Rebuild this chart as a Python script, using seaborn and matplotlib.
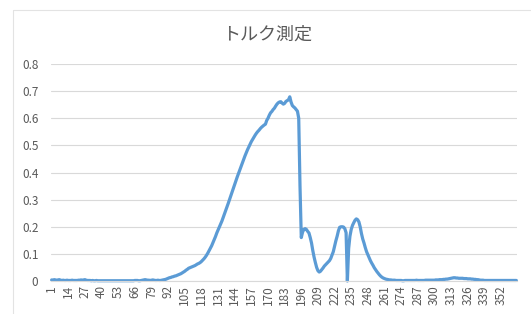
import numpy as np
import pandas as pd
import matplotlib
matplotlib.use("Agg")
import matplotlib.pyplot as plt
from matplotlib.lines import Line2D
import seaborn as sns

# torque readings, one value per sample (1..364)
torque_001_090 = [
    0.004, 0.003, 0.005, 0.004, 0.003, 0.004, 0.005, 0.003, 0.002, 0.003,
    0.002, 0.002, 0.003, 0.002, 0.002, 0.002, 0.003, 0.002, 0.002, 0.002,
    0.002, 0.003, 0.003, 0.004, 0.003, 0.004, 0.005, 0.003, 0.002, 0.002,
    0.002, 0.001, 0.002, 0.001, 0.001, 0.002, 0.001, 0.001, 0.001, 0.001,
    0.001, 0.001, 0.001, 0.001, 0.001, 0.001, 0.001, 0.001, 0.001, 0.001,
    0.001, 0.001, 0.001, 0.001, 0.001, 0.001, 0.001, 0.001, 0.001, 0.001,
    0.001, 0.001, 0.001, 0.001, 0.001, 0.002, 0.002, 0.002, 0.001, 0.001,
    0.002, 0.003, 0.004, 0.005, 0.004, 0.003, 0.003, 0.002, 0.003, 0.004,
    0.003, 0.002, 0.002, 0.003, 0.002, 0.002, 0.003, 0.004, 0.005, 0.006,
]
torque_091_190 = [
    0.008, 0.010, 0.012, 0.013, 0.015, 0.016, 0.018, 0.019, 0.021, 0.023,
    0.025, 0.027, 0.030, 0.033, 0.036, 0.040, 0.043, 0.047, 0.049, 0.051,
    0.053, 0.055, 0.057, 0.060, 0.063, 0.065, 0.068, 0.072, 0.077, 0.082,
    0.088, 0.095, 0.103, 0.112, 0.121, 0.130, 0.141, 0.152, 0.164, 0.177,
    0.188, 0.199, 0.210, 0.221, 0.234, 0.247, 0.260, 0.273, 0.287, 0.301,
    0.316, 0.330, 0.343, 0.357, 0.371, 0.384, 0.397, 0.410, 0.423, 0.436,
    0.449, 0.461, 0.473, 0.484, 0.494, 0.504, 0.514, 0.522, 0.530, 0.538,
    0.545, 0.551, 0.556, 0.562, 0.567, 0.571, 0.575, 0.578, 0.592, 0.600,
    0.611, 0.620, 0.625, 0.632, 0.637, 0.645, 0.652, 0.657, 0.660, 0.661,
    0.656, 0.652, 0.655, 0.662, 0.665, 0.668, 0.679, 0.660, 0.647, 0.642,
]
torque_191_270 = [
    0.638, 0.632, 0.626, 0.600, 0.350, 0.160, 0.180, 0.190, 0.193, 0.190,
    0.183, 0.177, 0.160, 0.140, 0.112, 0.088, 0.068, 0.050, 0.038, 0.033,
    0.036, 0.042, 0.048, 0.055, 0.060, 0.065, 0.070, 0.075, 0.083, 0.095,
    0.108, 0.128, 0.148, 0.165, 0.185, 0.198, 0.200, 0.200, 0.199, 0.193,
    0.178, 0.000, 0.120, 0.165, 0.190, 0.205, 0.215, 0.224, 0.229, 0.226,
    0.218, 0.200, 0.175, 0.155, 0.140, 0.123, 0.108, 0.097, 0.086, 0.075,
    0.066, 0.058, 0.049, 0.042, 0.035, 0.029, 0.023, 0.018, 0.014, 0.011,
    0.009, 0.007, 0.006, 0.005, 0.004, 0.004, 0.003, 0.003, 0.003, 0.002,
]
torque_271_364 = [
    0.002, 0.002, 0.002, 0.002, 0.001, 0.001, 0.002, 0.002, 0.002, 0.002,
    0.002, 0.002, 0.002, 0.002, 0.002, 0.003, 0.002, 0.002, 0.002, 0.002,
    0.002, 0.002, 0.003, 0.003, 0.003, 0.003, 0.003, 0.003, 0.003, 0.003,
    0.004, 0.004, 0.004, 0.005, 0.005, 0.005, 0.006, 0.006, 0.007, 0.007,
    0.008, 0.009, 0.010, 0.011, 0.012, 0.012, 0.011, 0.011, 0.010, 0.010,
    0.010, 0.010, 0.009, 0.009, 0.009, 0.008, 0.008, 0.008, 0.007, 0.007,
    0.006, 0.006, 0.005, 0.005, 0.004, 0.003, 0.003, 0.003, 0.002, 0.002,
    0.002, 0.002, 0.002, 0.002, 0.002, 0.002, 0.002, 0.002, 0.002, 0.002,
    0.002, 0.002, 0.002, 0.002, 0.002, 0.002, 0.002, 0.002, 0.002, 0.002,
    0.002, 0.002, 0.002, 0.002,
]
torque = torque_001_090 + torque_091_190 + torque_191_270 + torque_271_364
samples = list(range(1, len(torque) + 1))

x_tick_labels = [str(v) for v in range(1, 353, 13)]
y_ticks = [0, 0.1, 0.2, 0.3, 0.4, 0.5, 0.6, 0.7, 0.8]
y_tick_labels = ["0", "0.1", "0.2", "0.3", "0.4", "0.5", "0.6", "0.7", "0.8"]

df = pd.DataFrame({"sample": samples, "torque": torque})

sns.set_theme(style="white")
plt.rcParams["font.family"] = ["Noto Sans CJK JP", "DejaVu Sans"]

fig = plt.figure(figsize=(5.31, 3.14), dpi=100)
ax = fig.add_axes([51 / 531, 33 / 314, 466 / 531, 217 / 314])

text_gray = "#595959"
grid_gray = "#D9D9D9"

ax.set_ylim(0, 0.8)
ax.set_xlim(0.5, len(torque) + 0.5)
ax.set_yticks(y_ticks)
ax.set_yticklabels(y_tick_labels, fontsize=8.5, color=text_gray)
ax.set_xticks([int(v) for v in x_tick_labels])
ax.set_xticklabels(x_tick_labels, rotation=90, fontsize=8.5, color=text_gray)
ax.tick_params(axis="both", length=0)
ax.tick_params(axis="y", pad=9)
ax.tick_params(axis="x", pad=3)
ax.yaxis.grid(True, color=grid_gray, linewidth=0.8)
ax.set_axisbelow(True)
for side in ["top", "right", "left"]:
    ax.spines[side].set_visible(False)
ax.spines["bottom"].set_color(grid_gray)
ax.spines["bottom"].set_linewidth(0.8)

sns.lineplot(data=df, x="sample", y="torque", ax=ax, color="#5B9BD5",
             linewidth=2.3, clip_on=False)
ax.set_xlabel("")
ax.set_ylabel("")

fig.text(267 / 531, 1 - 35 / 314, "トルク測定", ha="center", va="center",
         fontsize=13, color=text_gray)

# chart area border (top and left edges visible in the crop)
fig.add_artist(Line2D([13 / 531, 1], [1 - 9.5 / 314, 1 - 9.5 / 314],
                      transform=fig.transFigure, color="#E3E3E3", linewidth=0.8))
fig.add_artist(Line2D([13 / 531, 13 / 531], [0, 1 - 9.5 / 314],
                      transform=fig.transFigure, color="#E3E3E3", linewidth=0.8))

fig.savefig("out.png", dpi=100)
